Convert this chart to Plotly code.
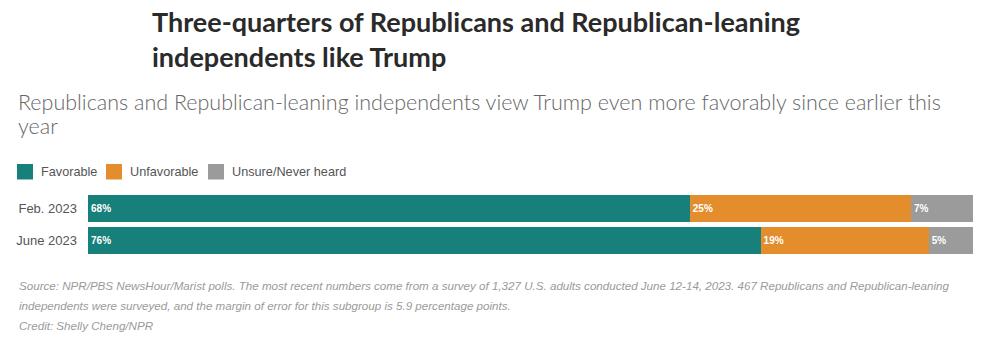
import plotly.graph_objects as go

categories = ["Feb. 2023", "June 2023"]
series_names = ["Favorable", "Unfavorable", "Unsure/Never heard"]
favorable = [68, 76]
unfavorable = [25, 19]
unsure = [7, 5]
colors = ["#17807b", "#e38d2c", "#9b9b9b"]

title_lines = ["Three-quarters of Republicans and Republican-leaning", "independents like Trump"]
subtitle_lines = ["Republicans and Republican-leaning independents view Trump even more favorably since earlier this", "year"]
footer_lines = ["Source: NPR/PBS NewsHour/Marist polls. The most recent numbers come from a survey of 1,327 U.S. adults conducted June 12-14, 2023. 467 Republicans and Republican-leaning",
                "independents were surveyed, and the margin of error for this subgroup is 5.9 percentage points.",
                "Credit: Shelly Cheng/NPR"]

fig = go.Figure()
for name, vals, col in zip(series_names, [favorable, unfavorable, unsure], colors):
    fig.add_trace(go.Bar(
        y=categories, x=vals, name=name, orientation="h",
        marker=dict(color=col, line=dict(width=0)),
        text=[f"{v}%" for v in vals], textposition="inside", insidetextanchor="start",
        textfont=dict(family="Liberation Sans", size=10, color="white", weight="bold"),
        showlegend=False,
    ))

W, H = 984, 337
L, R, T, B = 88, 11, 193, 81

fig.update_layout(
    width=W, height=H, barmode="stack", bargap=0.13,
    margin=dict(l=L, r=R, t=T, b=B),
    paper_bgcolor="white", plot_bgcolor="white",
    xaxis=dict(range=[0, 100], visible=False, fixedrange=True),
    yaxis=dict(autorange="reversed", showgrid=False, zeroline=False, showline=False,
               ticks="", ticklabelstandoff=10,
               tickfont=dict(family="Liberation Sans", size=13, color="#555555")),
    font=dict(family="Liberation Sans"),
    uniformtext=dict(minsize=10, mode="show"),
)

def px_x(x):
    return (x - L) / (W - L - R)

def px_y(y):
    return (H - B - y) / (H - T - B)

anns = []
shapes = []

def add_text(text, x, y, font):
    anns.append(dict(text=text, x=px_x(x), y=px_y(y), xref="paper", yref="paper",
                     xanchor="left", yanchor="middle", align="left", showarrow=False,
                     font=font))

for line, yc in zip(title_lines, [21, 56]):
    add_text(line, 150, yc, dict(family="Lato", size=27, color="#2a2a2a", weight="bold"))
for line, yc in zip(subtitle_lines, [102, 126]):
    add_text(line, 16, yc, dict(family="Lato", size=21.5, color="#666666", weight=300))

leg_x = [17, 106, 208]
for name, col, lx in zip(series_names, colors, leg_x):
    shapes.append(dict(type="rect", xref="paper", yref="paper",
                       x0=px_x(lx), x1=px_x(lx + 16), y0=px_y(164), y1=px_y(179.5),
                       fillcolor=col, line=dict(width=0)))
    add_text(name, lx + 22, 171.5, dict(family="Liberation Sans", size=12.7, color="#555555"))

for line, yc in zip(footer_lines, [285, 305, 325]):
    add_text(line, 17, yc, dict(family="Liberation Sans", size=11.6, color="#9a9a9a", style="italic"))

fig.update_layout(annotations=anns, shapes=shapes)
fig.write_html("out.html")
